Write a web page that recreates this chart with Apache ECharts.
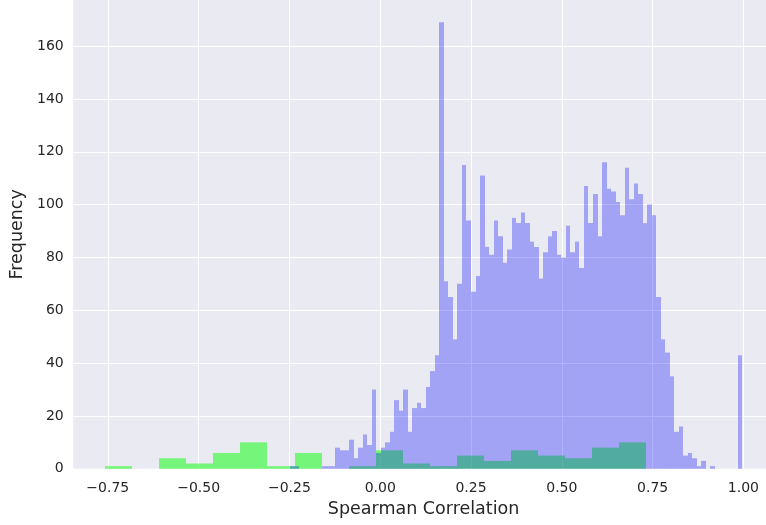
<!DOCTYPE html>
<html><head><meta charset="utf-8">
<script src="https://cdn.jsdelivr.net/npm/echarts@6/dist/echarts.min.js"></script>
<style>html,body{margin:0;padding:0;background:#fff}#c{width:766px;height:525px}</style>
</head><body><div id="c"></div>
<script>
// Histogram of Spearman correlations (blue: 100 bins, green: 20 bins)
const blueCounts = [
  1,1,0,0,0,0,0,1,1,1,
  8,7,7,11,4,8,13,9,30,6,
  8,10,14,26,22,30,14,23,25,23,
  31,37,43,169,71,65,49,70,115,94,
  67,73,111,84,81,94,88,78,83,95,
  93,97,93,86,84,72,82,88,90,81,
  80,92,82,86,76,107,93,104,88,116,
  106,105,101,96,114,102,108,104,93,100,
  96,65,49,44,35,14,16,5,6,4,
  1,3,0,1,0,0,0,0,0,43
];
const blueRange = [-0.2477, 0.9964];
const greenCounts = [1,0,4,2,6,10,1,6,0,1,7,2,1,5,3,7,5,4,8,10];
const greenRange = [-0.7576, 0.7331];
const xTicks = [-0.75,-0.5,-0.25,0,0.25,0.5,0.75,1.0];
const yTicks = [0,20,40,60,80,100,120,140,160];
const xLimits = [-0.8453, 1.0622];
const yLimits = [0, 177.45];

function toBins(counts, range) {
  const w = (range[1] - range[0]) / counts.length;
  return counts.map((c, i) => [range[0] + i * w, range[0] + (i + 1) * w, c]);
}
function histRenderer(color) {
  return function (params, api) {
    const c = api.value(2);
    if (!c) return null;
    const p0 = api.coord([api.value(0), c]);
    const p1 = api.coord([api.value(1), 0]);
    const l = Math.round(p0[0]), r = Math.round(p1[0]);
    return {
      type: 'rect',
      shape: { x: l, y: p0[1], width: r - l, height: p1[1] - p0[1] },
      style: { fill: color }
    };
  };
}
const font = 'DejaVu Sans';
const txt = '#262626';
const chart = echarts.init(document.getElementById('c'), null, { renderer: 'canvas' });
chart.setOption({
  animation: false,
  grid: { left: 73.2, right: 0, top: 0, bottom: 56.2, show: true, backgroundColor: '#EAEAF2', borderWidth: 0 },
  xAxis: {
    type: 'value', min: xLimits[0], max: xLimits[1],
    axisLine: { show: false },
    axisTick: { show: false, customValues: xTicks },
    axisLabel: {
      customValues: xTicks, margin: 13, fontFamily: font, fontSize: 14, color: txt,
      formatter: v => (v < 0 ? '\u2212' : '') + Math.abs(v).toFixed(2)
    },
    splitLine: { show: true, lineStyle: { color: '#ffffff', width: 1 } },
    name: 'Spearman Correlation', nameLocation: 'middle', nameGap: 32,
    nameTextStyle: { fontFamily: font, fontSize: 17.5, color: txt, padding: [0, 0, 0, 8] }
  },
  yAxis: {
    type: 'value', min: yLimits[0], max: yLimits[1],
    axisLine: { show: false },
    axisTick: { show: false, customValues: yTicks },
    axisLabel: { customValues: yTicks, margin: 9.5, fontFamily: font, fontSize: 14, color: txt },
    splitLine: { show: true, lineStyle: { color: '#ffffff', width: 1 } },
    name: 'Frequency', nameLocation: 'middle', nameGap: 46, nameRotate: 90,
    nameTextStyle: { fontFamily: font, fontSize: 17.5, color: txt }
  },
  series: [
    {
      type: 'custom', name: 'green', data: toBins(greenCounts, greenRange),
      encode: { x: [0, 1], y: 2 }, renderItem: histRenderer('rgba(0,255,0,0.5)'), z: 2
    },
    {
      type: 'custom', name: 'blue', data: toBins(blueCounts, blueRange),
      encode: { x: [0, 1], y: 2 }, renderItem: histRenderer('rgba(0,0,255,0.3)'), z: 3
    }
  ]
});
</script></body></html>
